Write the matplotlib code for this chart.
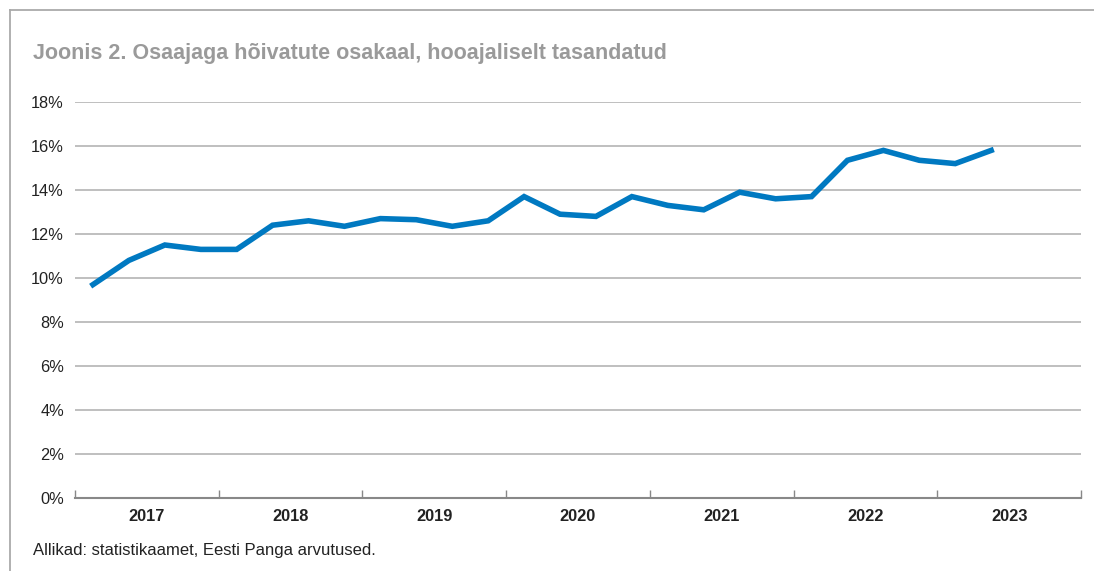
import numpy as np
import matplotlib
matplotlib.use("Agg")
import matplotlib.pyplot as plt
from matplotlib.lines import Line2D

plt.rcParams['font.family'] = ['Liberation Sans', 'DejaVu Sans']

years = ['2017', '2018', '2019', '2020', '2021', '2022', '2023']
# quarterly share of part-time employed, %, 2017Q1 .. 2023Q2
share = [9.7, 10.8, 11.5, 11.3,
         11.3, 12.4, 12.6, 12.35,
         12.7, 12.65, 12.35, 12.6,
         13.7, 12.9, 12.8, 13.7,
         13.3, 13.1, 13.9, 13.6,
         13.7, 15.35, 15.8, 15.35,
         15.2, 15.8]
yticks = [0, 2, 4, 6, 8, 10, 12, 14, 16, 18]

W, H = 1094, 571
fig = plt.figure(figsize=(W / 100, H / 100), dpi=100)
ax = fig.add_axes([75 / W, 1 - 498 / H, (1081 - 75) / W, (498 - 102) / H])

x = np.arange(len(share)) + 0.5
ax.plot(x, share, color='#0079c1', lw=4, solid_joinstyle='miter', zorder=3)

ax.set_xlim(0, 4 * len(years))
ax.set_ylim(0, 18)
ax.set_yticks(yticks)
ax.set_yticklabels([f'{v}%' for v in yticks], fontsize=11.8, color='#222222')
ax.tick_params(axis='y', length=0, pad=8)
ax.grid(axis='y', color='#b4b4b4', lw=1.2)
ax.set_axisbelow(True)

# year boundaries as ticks, year names as minor labels
ax.set_xticks(np.arange(0, 4 * len(years) + 1, 4))
ax.set_xticklabels([])
ax.tick_params(axis='x', which='major', direction='in', length=6, width=1, color='#888888')
ax.set_xticks(np.arange(2, 4 * len(years), 4), minor=True)
ax.set_xticklabels(years, minor=True, fontsize=11.8, fontweight='bold', color='#222222')
ax.tick_params(axis='x', which='minor', length=0, pad=8)

for s in ['top', 'right', 'left']:
    ax.spines[s].set_visible(False)
ax.spines['bottom'].set_color('#888888')
ax.spines['bottom'].set_linewidth(1.5)

# outer frame (top and left)
fig.add_artist(Line2D([10 / W, 1], [1 - 10 / H, 1 - 10 / H], color='#aaaaaa', lw=1.3))
fig.add_artist(Line2D([10 / W, 10 / W], [0, 1 - 10 / H], color='#aaaaaa', lw=1.3))

fig.text(33 / W, 1 - 53 / H, 'Joonis 2. Osaajaga hõivatute osakaal, hooajaliselt tasandatud',
         fontsize=15.5, fontweight='bold', color='#9a9a9a', va='center', ha='left')
fig.text(33 / W, 1 - 551 / H, 'Allikad: statistikaamet, Eesti Panga arvutused.',
         fontsize=12, color='#222222', va='center', ha='left')

fig.savefig('out.png', dpi=100)
